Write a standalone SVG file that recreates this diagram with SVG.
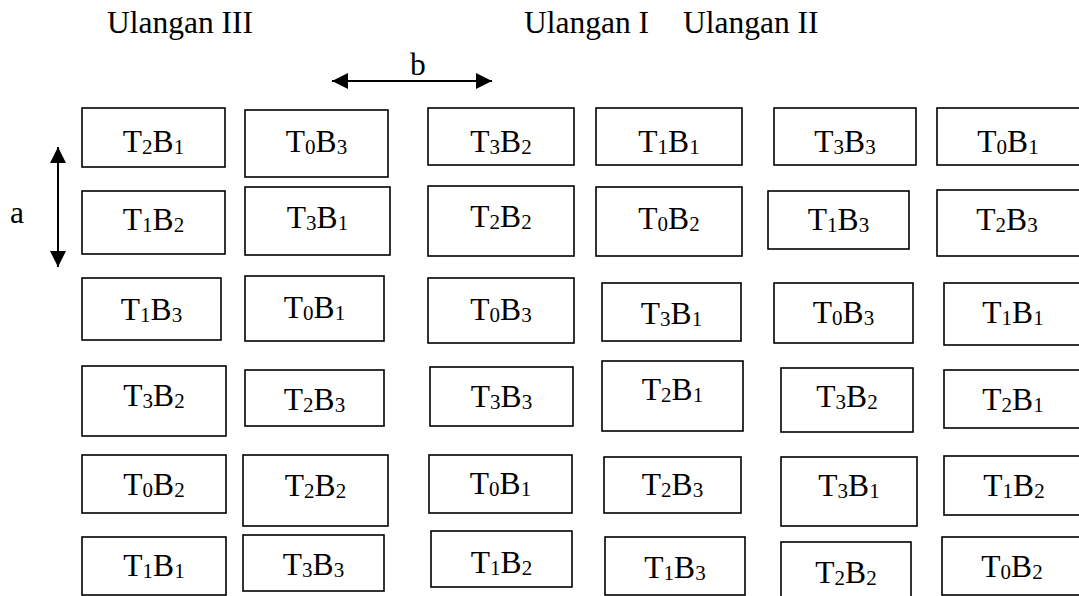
<svg xmlns="http://www.w3.org/2000/svg" width="1079" height="596" viewBox="0 0 1079 596">
<style>
rect{fill:#fff;stroke:#000;stroke-width:1.6}
text{font-family:'Liberation Serif','Times New Roman','DejaVu Serif',serif;font-size:31.5px;fill:#000}
.m{text-anchor:middle}
.s{font-size:21px}
.c{stroke:#000;stroke-width:2;fill:none}
</style>
<defs>
<marker id="ah" viewBox="0 0 16 16" refX="16" refY="8" markerWidth="16" markerHeight="16" markerUnits="userSpaceOnUse" orient="auto-start-reverse"><path d="M0,0 L16,8 L0,16 Z" fill="#000"/></marker>
</defs>
<rect x="0" y="0" width="1079" height="596" style="fill:#fff;stroke:none"/>
<g id="labels">
<text x="107" y="33">Ulangan III</text>
<text x="524" y="33">Ulangan I</text>
<text x="683" y="33">Ulangan II</text>
<text x="10" y="223">a</text>
<text x="410" y="75">b</text>
</g>
<g id="connectors">
<line class="c" x1="58" y1="147" x2="58" y2="267" style="marker-start:url(#ah);marker-end:url(#ah)"/>
<line class="c" x1="332" y1="81" x2="492" y2="81" style="marker-start:url(#ah);marker-end:url(#ah)"/>
</g>
<g id="r1c1"><rect x="82" y="108" width="143" height="59"/><text class="m" x="153.5" y="152">T<tspan class="s" dy="2">2</tspan><tspan dy="-2">B</tspan><tspan class="s" dy="2">1</tspan></text></g>
<g id="r1c2"><rect x="245" y="110" width="143" height="67"/><text class="m" x="316.5" y="152">T<tspan class="s" dy="2">0</tspan><tspan dy="-2">B</tspan><tspan class="s" dy="2">3</tspan></text></g>
<g id="r1c3"><rect x="428" y="108" width="146" height="57"/><text class="m" x="501" y="152">T<tspan class="s" dy="2">3</tspan><tspan dy="-2">B</tspan><tspan class="s" dy="2">2</tspan></text></g>
<g id="r1c4"><rect x="596" y="108" width="146" height="57"/><text class="m" x="669" y="152">T<tspan class="s" dy="2">1</tspan><tspan dy="-2">B</tspan><tspan class="s" dy="2">1</tspan></text></g>
<g id="r1c5"><rect x="774" y="108" width="142" height="57"/><text class="m" x="845" y="152">T<tspan class="s" dy="2">3</tspan><tspan dy="-2">B</tspan><tspan class="s" dy="2">3</tspan></text></g>
<g id="r1c6"><rect x="937" y="108" width="150" height="57"/><text class="m" x="1008" y="152">T<tspan class="s" dy="2">0</tspan><tspan dy="-2">B</tspan><tspan class="s" dy="2">1</tspan></text></g>

<g id="r2c1"><rect x="82" y="191" width="143" height="63"/><text class="m" x="153.5" y="230">T<tspan class="s" dy="2">1</tspan><tspan dy="-2">B</tspan><tspan class="s" dy="2">2</tspan></text></g>
<g id="r2c2"><rect x="245" y="187" width="145" height="68"/><text class="m" x="317.5" y="228">T<tspan class="s" dy="2">3</tspan><tspan dy="-2">B</tspan><tspan class="s" dy="2">1</tspan></text></g>
<g id="r2c3"><rect x="428" y="186" width="146" height="70"/><text class="m" x="501" y="227">T<tspan class="s" dy="2">2</tspan><tspan dy="-2">B</tspan><tspan class="s" dy="2">2</tspan></text></g>
<g id="r2c4"><rect x="596" y="187" width="146" height="69"/><text class="m" x="669" y="229">T<tspan class="s" dy="2">0</tspan><tspan dy="-2">B</tspan><tspan class="s" dy="2">2</tspan></text></g>
<g id="r2c5"><rect x="768" y="191" width="141" height="58"/><text class="m" x="838.5" y="230">T<tspan class="s" dy="2">1</tspan><tspan dy="-2">B</tspan><tspan class="s" dy="2">3</tspan></text></g>
<g id="r2c6"><rect x="937" y="190" width="150" height="66"/><text class="m" x="1007" y="230">T<tspan class="s" dy="2">2</tspan><tspan dy="-2">B</tspan><tspan class="s" dy="2">3</tspan></text></g>

<g id="r3c1"><rect x="82" y="278" width="139" height="62"/><text class="m" x="151.5" y="320">T<tspan class="s" dy="2">1</tspan><tspan dy="-2">B</tspan><tspan class="s" dy="2">3</tspan></text></g>
<g id="r3c2"><rect x="245" y="276" width="139" height="65"/><text class="m" x="314.5" y="318">T<tspan class="s" dy="2">0</tspan><tspan dy="-2">B</tspan><tspan class="s" dy="2">1</tspan></text></g>
<g id="r3c3"><rect x="428" y="278" width="146" height="65"/><text class="m" x="501" y="320">T<tspan class="s" dy="2">0</tspan><tspan dy="-2">B</tspan><tspan class="s" dy="2">3</tspan></text></g>
<g id="r3c4"><rect x="602" y="283" width="139" height="58"/><text class="m" x="671.5" y="324">T<tspan class="s" dy="2">3</tspan><tspan dy="-2">B</tspan><tspan class="s" dy="2">1</tspan></text></g>
<g id="r3c5"><rect x="774" y="283" width="139" height="60"/><text class="m" x="843.5" y="323">T<tspan class="s" dy="2">0</tspan><tspan dy="-2">B</tspan><tspan class="s" dy="2">3</tspan></text></g>
<g id="r3c6"><rect x="944" y="283" width="143" height="62"/><text class="m" x="1013" y="323">T<tspan class="s" dy="2">1</tspan><tspan dy="-2">B</tspan><tspan class="s" dy="2">1</tspan></text></g>

<g id="r4c1"><rect x="82" y="366" width="144" height="70"/><text class="m" x="154" y="406">T<tspan class="s" dy="2">3</tspan><tspan dy="-2">B</tspan><tspan class="s" dy="2">2</tspan></text></g>
<g id="r4c2"><rect x="245" y="370" width="139" height="56"/><text class="m" x="314.5" y="410">T<tspan class="s" dy="2">2</tspan><tspan dy="-2">B</tspan><tspan class="s" dy="2">3</tspan></text></g>
<g id="r4c3"><rect x="430" y="367" width="143" height="59"/><text class="m" x="501.5" y="407">T<tspan class="s" dy="2">3</tspan><tspan dy="-2">B</tspan><tspan class="s" dy="2">3</tspan></text></g>
<g id="r4c4"><rect x="602" y="361" width="141" height="70"/><text class="m" x="672.5" y="400">T<tspan class="s" dy="2">2</tspan><tspan dy="-2">B</tspan><tspan class="s" dy="2">1</tspan></text></g>
<g id="r4c5"><rect x="781" y="368" width="132" height="64"/><text class="m" x="847" y="407">T<tspan class="s" dy="2">3</tspan><tspan dy="-2">B</tspan><tspan class="s" dy="2">2</tspan></text></g>
<g id="r4c6"><rect x="944" y="370" width="143" height="58"/><text class="m" x="1013" y="410">T<tspan class="s" dy="2">2</tspan><tspan dy="-2">B</tspan><tspan class="s" dy="2">1</tspan></text></g>

<g id="r5c1"><rect x="82" y="455" width="144" height="58"/><text class="m" x="154" y="495">T<tspan class="s" dy="2">0</tspan><tspan dy="-2">B</tspan><tspan class="s" dy="2">2</tspan></text></g>
<g id="r5c2"><rect x="243" y="455" width="145" height="71"/><text class="m" x="315.5" y="496">T<tspan class="s" dy="2">2</tspan><tspan dy="-2">B</tspan><tspan class="s" dy="2">2</tspan></text></g>
<g id="r5c3"><rect x="429" y="455" width="143" height="58"/><text class="m" x="500.5" y="494">T<tspan class="s" dy="2">0</tspan><tspan dy="-2">B</tspan><tspan class="s" dy="2">1</tspan></text></g>
<g id="r5c4"><rect x="604" y="457" width="137" height="56"/><text class="m" x="672.5" y="495">T<tspan class="s" dy="2">2</tspan><tspan dy="-2">B</tspan><tspan class="s" dy="2">3</tspan></text></g>
<g id="r5c5"><rect x="781" y="457" width="136" height="69"/><text class="m" x="849" y="496">T<tspan class="s" dy="2">3</tspan><tspan dy="-2">B</tspan><tspan class="s" dy="2">1</tspan></text></g>
<g id="r5c6"><rect x="944" y="456" width="143" height="59"/><text class="m" x="1014" y="496">T<tspan class="s" dy="2">1</tspan><tspan dy="-2">B</tspan><tspan class="s" dy="2">2</tspan></text></g>

<g id="r6c1"><rect x="82" y="537" width="144" height="58"/><text class="m" x="154" y="576">T<tspan class="s" dy="2">1</tspan><tspan dy="-2">B</tspan><tspan class="s" dy="2">1</tspan></text></g>
<g id="r6c2"><rect x="243" y="535" width="141" height="56"/><text class="m" x="313.5" y="575">T<tspan class="s" dy="2">3</tspan><tspan dy="-2">B</tspan><tspan class="s" dy="2">3</tspan></text></g>
<g id="r6c3"><rect x="431" y="531" width="141" height="56"/><text class="m" x="501.5" y="573">T<tspan class="s" dy="2">1</tspan><tspan dy="-2">B</tspan><tspan class="s" dy="2">2</tspan></text></g>
<g id="r6c4"><rect x="605" y="537" width="140" height="58"/><text class="m" x="675" y="578">T<tspan class="s" dy="2">1</tspan><tspan dy="-2">B</tspan><tspan class="s" dy="2">3</tspan></text></g>
<g id="r6c5"><rect x="781" y="542" width="130" height="60"/><text class="m" x="846" y="583">T<tspan class="s" dy="2">2</tspan><tspan dy="-2">B</tspan><tspan class="s" dy="2">2</tspan></text></g>
<g id="r6c6"><rect x="942" y="537" width="145" height="58"/><text class="m" x="1012" y="577">T<tspan class="s" dy="2">0</tspan><tspan dy="-2">B</tspan><tspan class="s" dy="2">2</tspan></text></g>
</svg>
